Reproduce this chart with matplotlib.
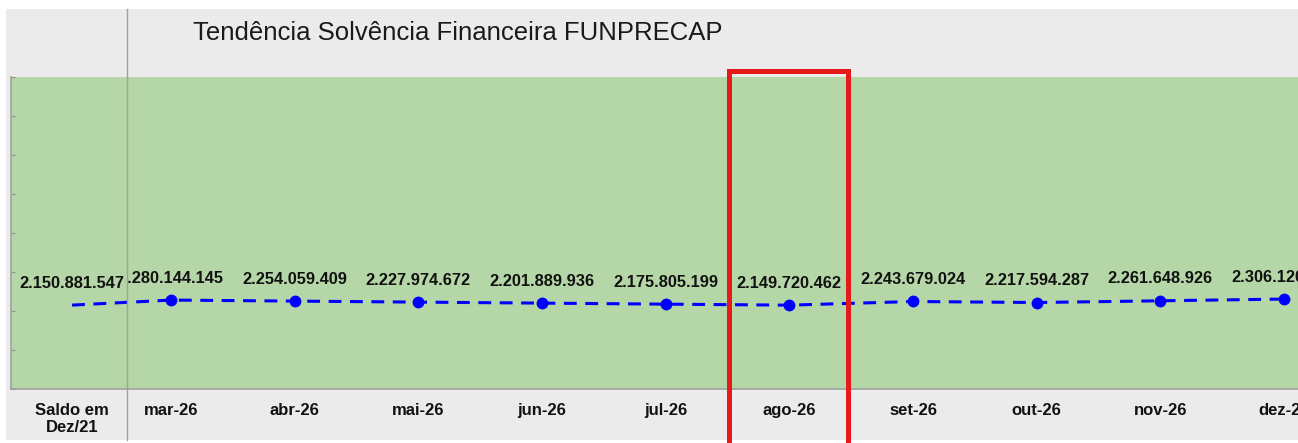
import matplotlib.pyplot as plt
from matplotlib.patches import Rectangle
from matplotlib.lines import Line2D

plt.rcParams['font.family'] = ['Liberation Sans', 'DejaVu Sans']

# data
categories = ['Saldo em\nDez/21', 'mar-26', 'abr-26', 'mai-26', 'jun-26', 'jul-26',
              'ago-26', 'set-26', 'out-26', 'nov-26', 'dez-26']
values = [2150881547, 2280144145, 2254059409, 2227974672, 2201889936, 2175805199,
          2149720462, 2243679024, 2217594287, 2261648926, 2306120000]
value_labels = ['2.150.881.547', '2.280.144.145', '2.254.059.409', '2.227.974.672',
                '2.201.889.936', '2.175.805.199', '2.149.720.462', '2.243.679.024',
                '2.217.594.287', '2.261.648.926', '2.306.120.000']
title = 'Tendência Solvência Financeira FUNPRECAP'

W, H = 1298, 443
fig = plt.figure(figsize=(W / 100, H / 100), dpi=100)
fig.patch.set_facecolor('white')

# gray panel behind everything
fig.patches.append(Rectangle((6 / W, 3 / H), 1292 / W, 431 / H, transform=fig.transFigure,
                             facecolor='#ebebeb', edgecolor='none', zorder=-1))

ax = fig.add_axes([11 / W, 54 / H, 1287 / W, 312 / H])
ax.set_zorder(1)
ax.set_facecolor('#b5d6a6')

# first column sits in its own narrow cell, the rest are evenly spaced
xs = [float(i) for i in range(len(categories))]
xs[0] = 0.2
sep = 0.644  # border between the first cell and the months

ax.plot(xs, values, color='#0000ff', lw=2.2, dashes=(4.2, 2.8),
        marker='o', markersize=7.5, markevery=list(range(1, len(xs))), zorder=3)

clip = Rectangle((sep, -1e10), 100, 1e11, transform=ax.transData)
for i, (x, v, lab) in enumerate(zip(xs, values, value_labels)):
    t = ax.annotate(lab, (x, v), xytext=(0, 22), textcoords='offset pixels',
                    ha='center', va='center', fontsize=11.8, fontweight='bold',
                    color='#111111', annotation_clip=False)
    if i == 1:
        t.set_clip_path(clip)

ax.set_xlim(-0.294, 10.113)
ax.set_ylim(0, 8e9)
ax.set_yticks([i * 1e9 for i in range(9)])
ax.set_yticklabels([])
ax.tick_params(axis='y', direction='in', length=3, color='#909090')
ax.set_xticks(xs)
ax.set_xticklabels(categories, fontsize=12, fontweight='bold', color='#111111')
ax.tick_params(axis='x', length=0, pad=10)
for s in ['top', 'right']:
    ax.spines[s].set_visible(False)
for s in ['left', 'bottom']:
    ax.spines[s].set_color('#a0a0a0')
    ax.spines[s].set_linewidth(1.2)

# separator line of the first cell
fig.lines.append(Line2D([127 / W, 127 / W], [3 / H, 434 / H], transform=fig.transFigure,
                        color='#a0a0a0', lw=1, zorder=5))

fig.text(193 / W, 1 - 33 / H, title, fontsize=18.5, ha='left', va='center', color='#1a1a1a')

# red highlight box around ago-26
fig.patches.append(Rectangle((728.5 / W, -10 / H), 119 / W, (443 - 70.5 + 10) / H,
                             transform=fig.transFigure, facecolor='none',
                             edgecolor='#e8191b', lw=3.6, zorder=10))

fig.savefig('out.png', dpi=100)
